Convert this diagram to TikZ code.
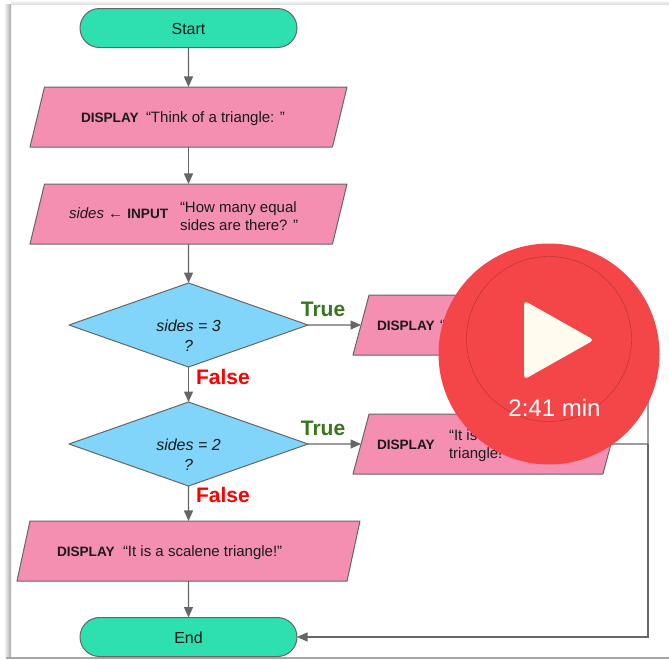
\documentclass[tikz,border=0pt]{standalone}
\usepackage{fontspec}
\setmainfont{Liberation Sans}
\usetikzlibrary{arrows.meta,shapes.geometric,shapes.misc}
\definecolor{pinkbox}{HTML}{F48FB1}
\definecolor{tealbox}{HTML}{2EDFAF}
\definecolor{bluebox}{HTML}{81D4FA}
\definecolor{edgegray}{HTML}{666666}
\definecolor{playred}{HTML}{F44649}
\definecolor{cream}{HTML}{FFFBEE}
\definecolor{truegreen}{HTML}{38761D}
\definecolor{falsered}{HTML}{FF0000}
\definecolor{inkdark}{HTML}{1A1A1A}
\newcommand{\bodyfill}{\phantom{\rule{10pt}{60pt}}}
\tikzset{
  x=1pt,y=-1pt,
  shapeline/.style={draw=edgegray,line width=1pt,line join=round,inner sep=0pt,outer sep=0pt},
  terminal/.style={shapeline,fill=tealbox,rounded rectangle,minimum width=217pt,minimum height=39pt,font=\fontsize{16}{19}\selectfont,text=inkdark,text height=13.5pt,text depth=0pt},
  iobox/.style={shapeline,fill=pinkbox,trapezium,trapezium stretches body=true,minimum height=60pt},
  wideio/.style={iobox,minimum width=317pt,trapezium left angle=76.4,trapezium right angle=103.6},
  sideio/.style={iobox,minimum width=266pt,trapezium left angle=75,trapezium right angle=105},
  decision/.style={shapeline,fill=bluebox,diamond,minimum width=239pt,minimum height=84pt,shape aspect=2.845},
  flow/.style={draw=edgegray,line width=1.3pt,-{Triangle[length=10.5pt,width=9pt]}},
  busline/.style={draw=edgegray,line width=1.3pt},
  txt/.style={inner sep=0pt,outer sep=0pt,anchor=base west,font=\fontsize{15}{17}\selectfont,text=inkdark},
  boldtxt/.style={inner sep=0pt,outer sep=0pt,anchor=base west,font=\fontsize{13.6}{17}\bfseries\selectfont,text=inkdark},
  itxt/.style={inner sep=0pt,outer sep=0pt,anchor=base,font=\fontsize{16}{19}\itshape\selectfont,text=inkdark},
  truelabel/.style={inner sep=0pt,anchor=base,font=\fontsize{21}{24}\bfseries\selectfont,text=truegreen},
  falselabel/.style={inner sep=0pt,anchor=base,font=\fontsize{21}{24}\bfseries\selectfont,text=falsered},
}
\begin{document}
\begin{tikzpicture}
\useasboundingbox (0,0) rectangle (669,659);
\fill[white] (0,0) rectangle (669,659);
% card shadow
\shade[left color=white,right color=black!35] (4,4) rectangle (11,657);
\shade[top color=white,bottom color=black!12] (11,0) rectangle (669,4);
\fill[black!35] (6,657) rectangle (669,659);

% shapes
\node[terminal] (start) at (188.5,28) {Start};
\node[wideio] (p1) at (188.5,117) {\bodyfill};
\node[wideio] (p2) at (188.5,214) {\bodyfill};
\node[decision] (d1) at (188.5,325) {\phantom{X}};
\node[decision] (d2) at (188.5,444) {\phantom{X}};
\node[iobox,minimum width=343pt,trapezium left angle=77.8,trapezium right angle=102.2] (p3) at (188.5,551) {\bodyfill};
\node[terminal] (stop) at (188.5,637) {End};
\node[sideio] (r1) at (486,325) {\bodyfill};
\node[sideio] (r2) at (486,444) {\bodyfill};

% texts
\node[boldtxt] (t1a) at (81,122) {DISPLAY};
\node[txt] (t1b) at (146,122) {“Think of a triangle: ”};
\node[txt] (t2a) at (69,218.5) {\textit{sides} ← {\fontsize{13.6}{17}\bfseries\selectfont INPUT}};
\node[txt] (t2b) at (180,212.7) {“How many equal};
\node[txt] (t2c) at (180,230) {sides are there? ”};
\node[itxt] (t3a) at (188.5,331) {sides = 3};
\node[itxt] (t3b) at (188.5,351) {?};
\node[itxt] (t4a) at (188.5,450) {sides = 2};
\node[itxt] (t4b) at (188.5,470) {?};
\node[boldtxt] (t5a) at (57,556) {DISPLAY};
\node[txt] (t5b) at (123,556) {“It is a scalene triangle!”};
\node[boldtxt] (t6a) at (377,330.7) {DISPLAY};
\node[txt] (t6b) at (440,330.7) {“};
\node[boldtxt] (t7a) at (377,449) {DISPLAY};
\node[txt] (t7b) at (449,440.7) {“It is};
\node[txt] (t7c) at (449,458) {triangle!};

% connectors
\coordinate (busa) at (648,325);
\coordinate (busb) at (648,444);
\coordinate (busc) at (648,637);
\draw[flow] (start.south) -- (p1.north);
\draw[flow] (p1.south) -- (p2.north);
\draw[flow] (p2.south) -- (d1.north);
\draw[flow] (d1.south) -- (d2.north);
\draw[flow] (d2.south) -- (p3.north);
\draw[flow] (p3.south) -- (stop.north);
\draw[flow] (d1.east) -- (r1.west);
\draw[flow] (d2.east) -- (r2.west);
\draw[busline] (r1.east) -- (busa) -- (busb);
\draw[busline] (r2.east) -- (busb);
\draw[flow] (busb) -- (busc) -- (stop.east);

% branch labels
\node[truelabel] (l1) at (323,316) {True};
\node[truelabel] (l2) at (323,435) {True};
\node[falselabel] (l3) at (223,384) {False};
\node[falselabel] (l4) at (223,502.7) {False};

% play badge
\fill[playred] (549,354) circle (110.5);
\draw[draw=black!30!playred,line width=0.4pt] (549,339) circle (82.5);
\fill[cream,rounded corners=4pt] (524,300.5) -- (594,340) -- (524,379.5) -- cycle;
\node[inner sep=0pt,text=white,font=\fontsize{24}{28}\selectfont] (dur) at (554.5,408) {2:41 min};
\end{tikzpicture}
\end{document}
